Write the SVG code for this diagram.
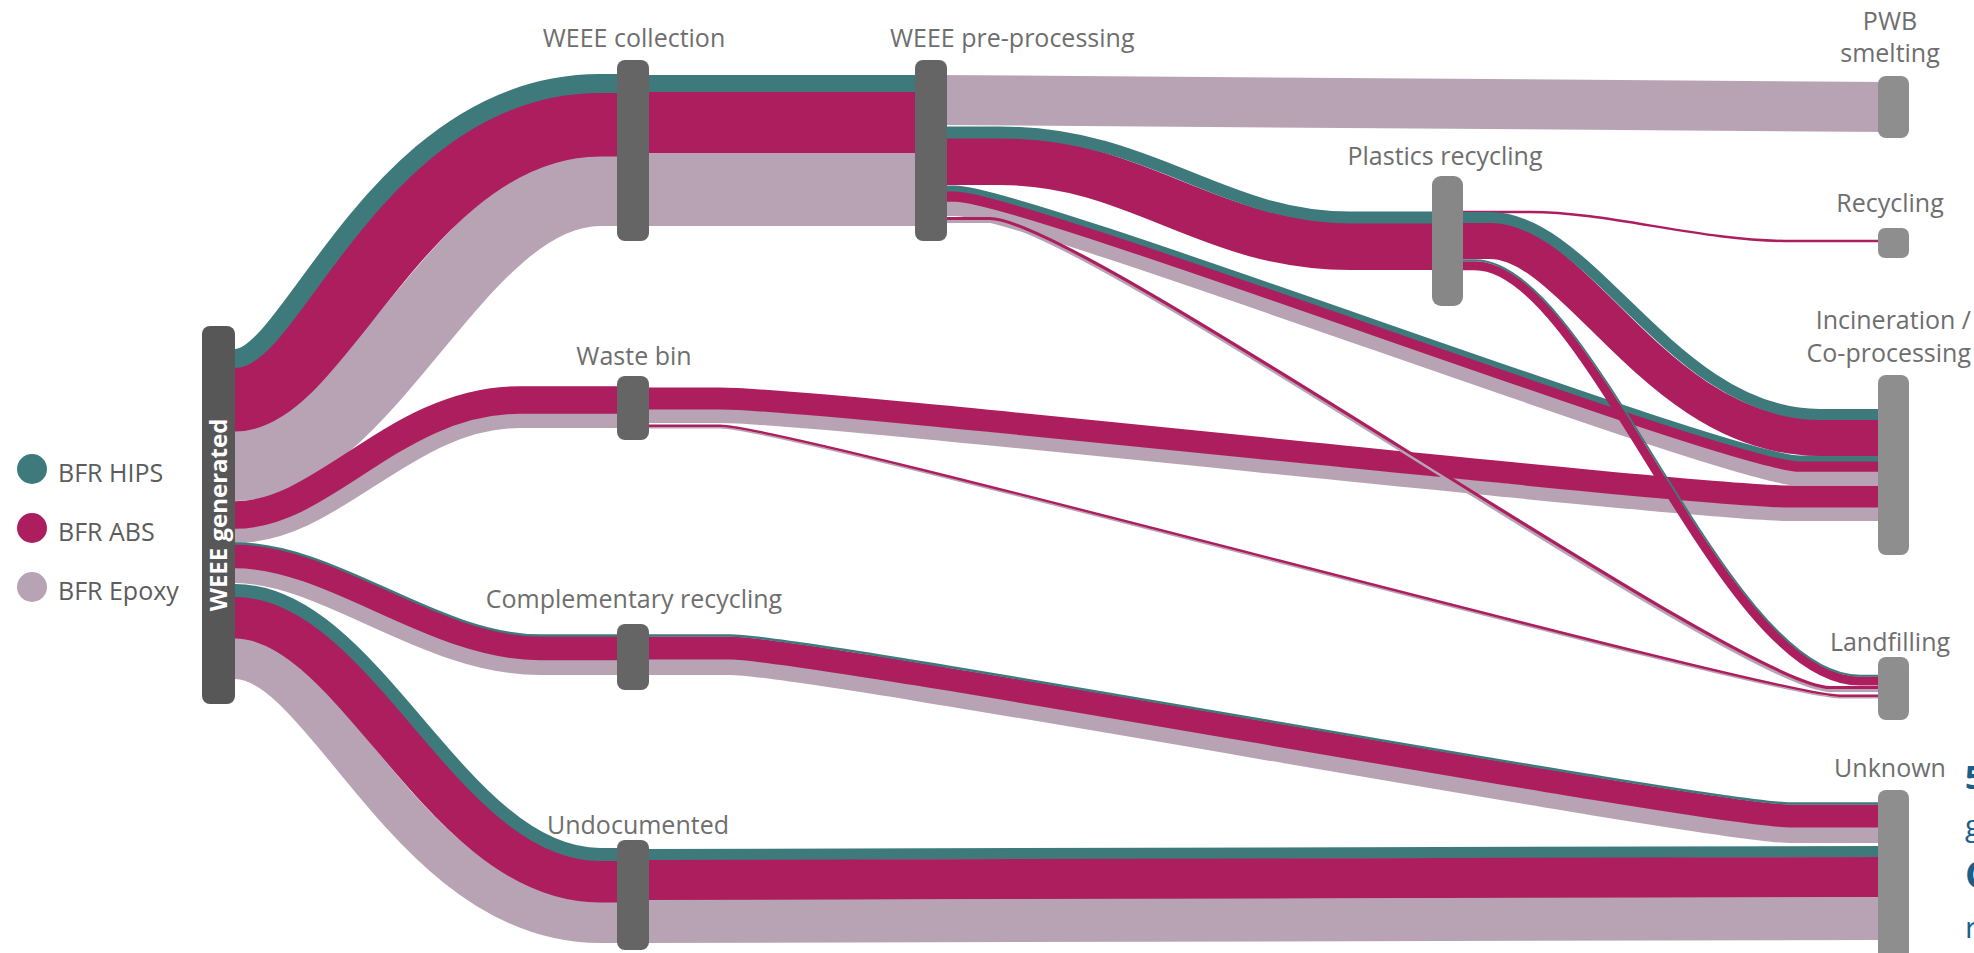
<svg xmlns="http://www.w3.org/2000/svg" width="1974" height="953" viewBox="0 0 1974 953">
<style>
.t{fill:none;stroke:#3e7a7b}
.m{fill:none;stroke:#ac1e5e}
.p{fill:none;stroke:#b8a3b4}
.tf{fill:#3e7a7b}.mf{fill:#ac1e5e}.pf{fill:#b8a3b4}
.nd{fill:#656565}.ng{fill:#575757}.nl{fill:#8e8e8e}
.lbl{font-family:'Open Sans','Liberation Sans',sans-serif;font-size:25px;fill:#6e6e6e}
.leg{font-family:'Open Sans','Liberation Sans',sans-serif;font-size:25px;fill:#5c5c5c}
.blue{font-family:'Open Sans','Liberation Sans',sans-serif;fill:#1b5e8a}
</style>
<rect width="1974" height="953" fill="#ffffff"/>
<g id="connectors">
  <!-- generated -> collection -->
  <path class="p" stroke-width="73" d="M228 464.5H235C368.2 464.5 458.2 189.5 600 189.5H625"/>
  <path class="m" stroke-width="68" d="M228 397.5H235C319.7 397.5 409.7 122.5 600 122.5H625"/>
  <path class="t" stroke-width="19" d="M228 358.5H235C291.5 358.5 381.5 83.5 600 83.5H625"/>
  <!-- collection -> pre-processing -->
  <rect class="tf" x="640" y="75" width="285" height="17.5"/>
  <rect class="mf" x="640" y="92" width="285" height="61.5"/>
  <rect class="pf" x="640" y="153" width="285" height="73"/>
  <!-- generated -> waste bin -->
  <path class="p" stroke-width="16" d="M228 535H235C336.7 535 406.7 420 520 420H625"/>
  <path class="m" stroke-width="27.5" d="M228 515H235C325.5 515 395.5 400 520 400H625"/>
  <!-- generated -> complementary recycling -->
  <path class="p" stroke-width="16" d="M228 575H235C325.3 575 425.3 667 540 667H625"/>
  <path class="m" stroke-width="24.5" d="M228 556H235C332.7 556 432.7 648 540 648H625"/>
  <path class="t" stroke-width="2.5" d="M228 543.5H235C337.4 543.5 437.4 635.5 540 635.5H625"/>
  <!-- generated -> undocumented -->
  <path class="p" stroke-width="43" d="M228 657.5H235C326.4 657.5 411.4 921.5 600 921.5H625"/>
  <path class="m" stroke-width="45" d="M228 616H235C356.7 616 441.7 880 600 880H625"/>
  <path class="t" stroke-width="13" d="M228 590.5H235C375.3 590.5 460.3 854.5 600 854.5H625"/>
  <!-- undocumented -> unknown -->
  <polygon class="tf" points="640,849 1885,846 1885,857.5 640,860.5"/>
  <polygon class="mf" points="640,860 1885,857 1885,897.5 640,900.5"/>
  <polygon class="pf" points="640,900 1885,897 1885,940 640,943"/>
  <!-- complementary -> unknown -->
  <path class="p" stroke-width="16" d="M640 667H730C810 667 1710 835 1790 835H1885"/>
  <path class="m" stroke-width="23" d="M640 648H730C810 648 1710 816 1790 816H1885"/>
  <path class="t" stroke-width="2.5" d="M640 635.5H730C810 635.5 1710 803.5 1790 803.5H1885"/>
  <!-- waste bin -> incineration -->
  <path class="p" stroke-width="14" d="M640 416H720C820 416 1690 514 1790 514H1885"/>
  <path class="m" stroke-width="22" d="M640 398.5H720C820 398.5 1690 496.5 1790 496.5H1885"/>
  <!-- waste bin -> landfilling -->
  <path class="p" stroke-width="1.5" d="M640 427.75H720C790 427.75 1770 697.75 1840 697.75H1885"/>
  <path class="m" stroke-width="2.5" d="M640 425.75H720C790 425.75 1770 695.75 1840 695.75H1885"/>
  <!-- pre-processing -> PWB smelting -->
  <polygon class="pf" points="935,75 1885,82 1885,132 935,125"/>
  <!-- pre-processing -> plastics recycling -->
  <path class="m" stroke-width="48" d="M935 161H1000C1137.6 161 1207.6 246 1350 246H1440"/>
  <path class="t" stroke-width="12" d="M935 132.5H1000C1151.3 132.5 1221.3 217.5 1350 217.5H1440"/>
  <!-- pre-processing -> incineration -->
  <path class="p" stroke-width="15" d="M935 208.5H955C1025 208.5 1730 478.5 1800 478.5H1885"/>
  <path class="m" stroke-width="11.5" d="M935 196H955C1025 196 1730 466 1800 466H1885"/>
  <path class="t" stroke-width="6" d="M935 188.5H955C1025 188.5 1730 458.5 1800 458.5H1885"/>
  <!-- pre-processing -> landfilling -->
  <path class="p" stroke-width="3" d="M935 221.5H990C1080 221.5 1740 690.5 1830 690.5H1885"/>
  <path class="m" stroke-width="3.2" d="M935 218.5H990C1080 218.5 1740 687.5 1830 687.5H1885"/>
  <!-- plastics recycling -> recycling -->
  <path class="m" stroke-width="2.5" d="M1455 212H1530C1610 212 1700 241 1790 241H1885"/>
  <!-- plastics recycling -> incineration -->
  <path class="m" stroke-width="37" d="M1455 240.5H1490C1577 240.5 1657 437.5 1820 437.5H1885"/>
  <path class="t" stroke-width="11" d="M1455 217.5H1490C1592.4 217.5 1672.4 414.5 1820 414.5H1885"/>
  <!-- plastics recycling -> landfilling -->
  <path class="m" stroke-width="9" d="M1455 265.75H1475C1589.4 265.75 1719.4 681 1860 681H1885"/>
  <path class="t" stroke-width="1.8" d="M1455 260.25H1475C1593.3 260.25 1723.3 675.75 1860 675.75H1885"/>
</g>
<g id="legend">
  <circle cx="32" cy="469" r="15" class="tf"/>
  <text x="58" y="482" class="leg">BFR HIPS</text>
  <circle cx="32" cy="528" r="15" class="mf"/>
  <text x="58" y="541" class="leg">BFR ABS</text>
  <circle cx="32" cy="587" r="15" class="pf"/>
  <text x="58" y="600" class="leg">BFR Epoxy</text>
</g>
<g id="node-weee-generated">
  <rect x="202" y="326" width="33" height="378" rx="8" class="ng"/>
  <text transform="translate(218.5 515) rotate(-90)" y="8.5" text-anchor="middle" font-family="'Open Sans','Liberation Sans',sans-serif" font-size="24" font-weight="bold" fill="#ffffff">WEEE generated</text>
</g>
<g id="node-weee-collection">
  <rect x="617" y="60" width="32" height="181" rx="8" class="nd"/>
  <text x="634" y="47" text-anchor="middle" class="lbl">WEEE collection</text>
</g>
<g id="node-weee-pre-processing">
  <rect x="915" y="60" width="32" height="181" rx="8" class="nd"/>
  <text x="890" y="47" class="lbl">WEEE pre-processing</text>
</g>
<g id="node-waste-bin">
  <rect x="617" y="376" width="32" height="64" rx="8" class="nd"/>
  <text x="634" y="365" text-anchor="middle" class="lbl">Waste bin</text>
</g>
<g id="node-complementary-recycling">
  <rect x="617" y="624" width="32" height="66" rx="8" class="nd"/>
  <text x="634" y="608" text-anchor="middle" class="lbl">Complementary recycling</text>
</g>
<g id="node-undocumented">
  <rect x="617" y="840" width="32" height="110" rx="8" class="nd"/>
  <text x="638" y="834" text-anchor="middle" class="lbl">Undocumented</text>
</g>
<g id="node-plastics-recycling">
  <rect x="1432" y="176" width="31" height="130" rx="9" fill="#878787"/>
  <text x="1445" y="165" text-anchor="middle" class="lbl">Plastics recycling</text>
</g>
<g id="node-pwb-smelting">
  <rect x="1878" y="76" width="31" height="62" rx="8" class="nl"/>
  <text x="1890" y="30" text-anchor="middle" class="lbl">PWB</text>
  <text x="1890" y="62" text-anchor="middle" class="lbl">smelting</text>
</g>
<g id="node-recycling">
  <rect x="1878" y="228" width="31" height="30" rx="7" class="nl"/>
  <text x="1890" y="212" text-anchor="middle" class="lbl">Recycling</text>
</g>
<g id="node-incineration">
  <rect x="1878" y="375" width="31" height="180" rx="8" class="nl"/>
  <text x="1971" y="329" text-anchor="end" class="lbl">Incineration /</text>
  <text x="1971" y="362" text-anchor="end" class="lbl">Co-processing</text>
</g>
<g id="node-landfilling">
  <rect x="1878" y="657" width="31" height="63" rx="8" class="nl"/>
  <text x="1890" y="651" text-anchor="middle" class="lbl">Landfilling</text>
</g>
<g id="node-unknown">
  <rect x="1878" y="790" width="31" height="175" rx="8" class="nl"/>
  <text x="1890" y="777" text-anchor="middle" class="lbl">Unknown</text>
</g>
<g id="edge-text">
  <text x="1965" y="789" class="blue" font-size="32" font-weight="bold">5</text>
  <text x="1965" y="836" class="blue" font-size="30">g</text>
  <text x="1965" y="888" class="blue" font-size="38" font-weight="bold">C</text>
  <text x="1965" y="938" class="blue" font-size="30">r</text>
</g>
</svg>
